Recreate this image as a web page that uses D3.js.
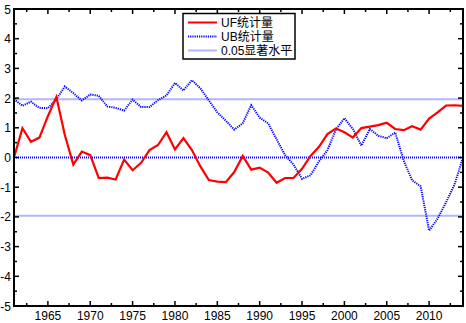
<!DOCTYPE html>
<html><head><meta charset="utf-8">
<script src="https://cdn.jsdelivr.net/npm/d3@7"></script>
<style>body{margin:0;background:#fff}svg{display:block}text{font-family:"Liberation Sans",Arial,"Noto Sans CJK SC",sans-serif}</style>
</head><body><svg id="c" width="466" height="323"></svg>
<script>
const years = d3.range(1961, 2015);
const ufValues = [0,0.99,0.53,0.67,1.39,2.04,0.76,-0.24,0.2,0.08,-0.69,-0.68,-0.74,-0.07,-0.43,-0.18,0.25,0.42,0.85,0.27,0.65,0.25,-0.3,-0.76,-0.81,-0.83,-0.49,0.05,-0.41,-0.34,-0.51,-0.85,-0.69,-0.69,-0.38,0.05,0.36,0.79,0.98,0.85,0.67,0.99,1.04,1.09,1.17,0.96,0.92,1.05,0.94,1.31,1.52,1.75,1.76,1.74];
const ubValues = [1.96,1.74,1.88,1.67,1.66,1.96,2.39,2.17,1.92,2.12,2.08,1.72,1.67,1.58,1.95,1.7,1.7,1.93,2.09,2.51,2.26,2.6,2.33,1.92,1.52,1.24,0.94,1.15,1.76,1.34,1.15,0.61,0.08,-0.24,-0.72,-0.6,-0.13,0.25,0.94,1.32,0.96,0.4,0.96,0.73,0.65,0.84,-0.11,-0.77,-0.97,-2.46,-2.06,-1.51,-0.91,0];
const xTicks = [1965,1970,1975,1980,1985,1990,1995,2000,2005,2010];
const yTicks = [5,4,3,2,1,0,-1,-2,-3,-4,-5];
const sigLevel = 1.96;
const legendLabels = ["UF统计量","UB统计量","0.05显著水平"];

const svg = d3.select("#c");
const L=14, R=463, T=9, B=306;
const x = d3.scaleLinear().domain([1961,2014]).range([L,R]);
const y = d3.scaleLinear().domain([-5,5]).range([B,T]);

const g = svg.append("g");
[sigLevel,-sigLevel].forEach(v=>{
  g.append("line").attr("x1",L).attr("x2",R).attr("y1",y(v)).attr("y2",y(v))
   .attr("stroke","#b4b4ff").attr("stroke-width",2);
});
g.append("line").attr("x1",L).attr("x2",R).attr("y1",y(0)).attr("y2",y(0))
 .attr("stroke","#0000ff").attr("stroke-width",2).attr("stroke-dasharray","1,1");

const line = d3.line().x((d,i)=>x(years[i])).y(d=>y(d));
g.append("path").datum(ubValues).attr("d",line).attr("fill","none")
 .attr("stroke","#0000ff").attr("stroke-width",2).attr("stroke-dasharray","1.2,1");
g.append("path").datum(ufValues).attr("d",line).attr("fill","none")
 .attr("stroke","#ff0000").attr("stroke-width",2.2);

const minorX = d3.range(1962.5, 2014, 2.5);
const minorY = d3.range(-4.5, 5, 1);
const tk = svg.append("g").attr("stroke","#000").attr("stroke-width",1.5);
xTicks.forEach(v=>{
  tk.append("line").attr("x1",x(v)).attr("x2",x(v)).attr("y1",B).attr("y2",B-5);
  tk.append("line").attr("x1",x(v)).attr("x2",x(v)).attr("y1",T).attr("y2",T+5);
});
minorX.forEach(v=>{
  if (xTicks.includes(v)) return;
  tk.append("line").attr("x1",x(v)).attr("x2",x(v)).attr("y1",B).attr("y2",B-3);
  tk.append("line").attr("x1",x(v)).attr("x2",x(v)).attr("y1",T).attr("y2",T+3);
});
yTicks.forEach(v=>{
  tk.append("line").attr("x1",L).attr("x2",L+5).attr("y1",y(v)).attr("y2",y(v));
  tk.append("line").attr("x1",R).attr("x2",R-5).attr("y1",y(v)).attr("y2",y(v));
});
minorY.forEach(v=>{
  tk.append("line").attr("x1",L).attr("x2",L+3).attr("y1",y(v)).attr("y2",y(v));
  tk.append("line").attr("x1",R).attr("x2",R-3).attr("y1",y(v)).attr("y2",y(v));
});
svg.append("rect").attr("x",L).attr("y",T).attr("width",R-L).attr("height",B-T)
 .attr("fill","none").attr("stroke","#000").attr("stroke-width",2);

xTicks.forEach(v=>{
  svg.append("text").attr("x",x(v)).attr("y",B+14).attr("text-anchor","middle")
   .attr("font-size",12).text(v);
});
yTicks.forEach(v=>{
  svg.append("text").attr("x",11).attr("y",y(v)+4.5).attr("text-anchor","end")
   .attr("font-size",12).text(v);
});

const lg = svg.append("g");
lg.append("rect").attr("x",183).attr("y",13.5).attr("width",112).attr("height",45.5)
 .attr("fill","#fff").attr("stroke","#000").attr("stroke-width",1.5);
const styles = [
  {stroke:"#ff0000", dash:null, w:2},
  {stroke:"#0000ff", dash:"1.2,1", w:2},
  {stroke:"#b4b4ff", dash:null, w:2}
];
legendLabels.forEach((t,i)=>{
  const ly = 22.5 + i*14;
  const l = lg.append("line").attr("x1",188).attr("x2",217).attr("y1",ly).attr("y2",ly)
   .attr("stroke",styles[i].stroke).attr("stroke-width",styles[i].w);
  if (styles[i].dash) l.attr("stroke-dasharray",styles[i].dash);
  lg.append("text").attr("x",221).attr("y",ly+4.5).attr("font-size",12).text(t);
});
</script></body></html>
